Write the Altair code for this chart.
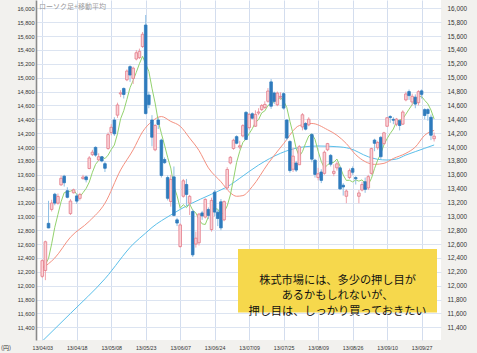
import altair as alt
import pandas as pd

# ---- data ----
tick_labels = ["13/04/03", "13/04/18", "13/05/08", "13/05/23", "13/06/07", "13/06/24",
               "13/07/09", "13/07/25", "13/08/09", "13/08/26", "13/09/10", "13/09/27"]
tick_step = 11

opens = [
    12135, 12220, 12900, 13100, 13320, 13190, 13455, 13580, 13370, 13040,
    13340, 13295, 13260, 13545, 13570, 13690, 13890, 13995, 13815, 13860,
    13760, 13980, 14210, 14390, 14460, 14765, 14845, 14970, 15160, 14990,
    15270, 15290, 15450, 15760, 14750, 14390, 13960, 14390, 14100, 13820,
    13560, 13215, 13570, 12950, 12565, 13290, 13460, 13190, 13070, 12600,
    12620, 13050, 12990, 13100, 12810, 13350, 13060, 13210, 12950, 13410,
    13770, 13980, 14150, 14000, 14160, 14500, 14280, 14480, 14300, 14490,
    14540, 14570, 14660, 14940, 14780, 14610, 14720, 14770, 14390, 14080,
    13680, 13770, 13745, 14290, 14340, 14320, 14180, 13810, 13560, 13640,
    13620, 13960, 13880, 13620, 13700, 13700, 13450, 13290, 13560, 13690,
    13560, 13290, 13380, 13500, 13410, 13620, 14100, 13990, 14140, 14050,
    14300, 14440, 14400, 14330, 14380, 14330, 14680, 14800, 14650, 14720,
    14640, 14810, 14540, 14540, 14430, 14120]
highs = [
    12380, 12650, 13225, 13240, 13340, 13330, 13590, 13600, 13420, 13250,
    13400, 13330, 13340, 13600, 13590, 13870, 13960, 14010, 13910, 13870,
    13790, 14210, 14330, 14430, 14640, 14820, 14860, 15120, 15180, 15160,
    15400, 15420, 15660, 15905, 14800, 14460, 14330, 14420, 14120, 13850,
    13590, 13600, 13720, 12980, 12900, 13540, 13540, 13310, 13100, 12780,
    13050, 13080, 13260, 13130, 13270, 13380, 13100, 13250, 13230, 13710,
    13870, 14120, 14170, 14090, 14330, 14520, 14490, 14500, 14530, 14560,
    14620, 14660, 14850, 14980, 14800, 14800, 14790, 14790, 14400, 14100,
    13990, 13800, 14030, 14490, 14360, 14430, 14200, 13830, 13700, 13680,
    13950, 14060, 13900, 13750, 13790, 13720, 13480, 13390, 13690, 13720,
    13580, 13380, 13500, 13560, 13600, 13990, 14120, 14090, 14160, 14220,
    14430, 14460, 14430, 14420, 14400, 14530, 14800, 14830, 14770, 14760,
    14820, 14830, 14560, 14560, 14470, 14210]
lows = [
    12110, 12080, 12830, 13070, 13160, 13170, 13440, 13430, 13260, 13020,
    13330, 13180, 13230, 13530, 13490, 13680, 13870, 13860, 13800, 13780,
    13640, 13960, 14170, 14160, 14420, 14720, 14700, 14950, 14940, 14910,
    15250, 15270, 15430, 14470, 14560, 14010, 13940, 14260, 13560, 13760,
    13230, 13140, 13000, 12860, 12548, 13270, 13150, 13020, 12415, 12550,
    12580, 12950, 12970, 12960, 12780, 13000, 12860, 12800, 12930, 13380,
    13750, 13960, 14040, 13970, 14140, 14100, 14250, 14400, 14290, 14460,
    14520, 14550, 14640, 14550, 14620, 14590, 14680, 14540, 14100, 13630,
    13640, 13640, 13740, 14240, 14240, 14300, 13780, 13560, 13520, 13480,
    13600, 13940, 13720, 13580, 13660, 13380, 13300, 13190, 13540, 13600,
    13460, 13190, 13360, 13340, 13380, 13600, 13940, 13960, 13830, 14030,
    14290, 14350, 14330, 14300, 14240, 14320, 14660, 14680, 14600, 14560,
    14600, 14700, 14400, 14380, 14100, 14080]
closes = [
    12362, 12634, 12833, 13192, 13192, 13288, 13549, 13485, 13275, 13221,
    13383, 13220, 13316, 13568, 13529, 13843, 13926, 13884, 13860, 13799,
    13694, 14180, 14285, 14191, 14607, 14782, 14758, 15096, 15039, 15138,
    15360, 15381, 15627, 14483, 14612, 14142, 14311, 14326, 13589, 13774,
    13261, 13534, 13014, 12904, 12877, 13514, 13317, 13289, 12445, 12686,
    13033, 13007, 13245, 13014, 13230, 13062, 12969, 12834, 13213, 13677,
    13852, 14098, 14055, 14018, 14309, 14109, 14472, 14416, 14472, 14506,
    14599, 14615, 14808, 14589, 14658, 14778, 14731, 14562, 14129, 13661,
    13869, 13668, 14005, 14466, 14258, 14401, 13825, 13605, 13615, 13519,
    13925, 14050, 13752, 13650, 13758, 13397, 13424, 13366, 13660, 13636,
    13542, 13338, 13459, 13389, 13573, 13978, 14054, 14065, 13861, 14205,
    14423, 14425, 14387, 14404, 14311, 14505, 14766, 14742, 14732, 14620,
    14799, 14760, 14455, 14484, 14170, 14157]
prior_closes = [12335, 12397, 12135, 12003]   # closes before the first day (for the 5-day average)

ma25_idx = [0, 4, 9, 15, 20, 25, 29, 32, 35, 38, 41, 44, 47, 50, 53, 57, 60, 62, 64, 67,
            72, 77, 82, 86, 91, 94, 97, 100, 103, 106, 109, 112, 116, 119, 122, 125]
ma25_val = [12250, 12400, 12700, 12930, 13190, 13670, 13960, 14220, 14370, 14440, 14370,
            14300, 14130, 13950, 13700, 13500, 13340, 13290, 13300, 13430, 13760, 14050,
            14310, 14340, 14250, 14170, 14050, 13890, 13790, 13750, 13765, 13835, 13910,
            14000, 14170, 14240]
ma75_idx = [0, 9, 20, 29, 33, 35, 41, 47, 54, 60, 63, 69, 76, 79, 83, 88, 94, 98, 104,
            107, 110, 113, 116, 119, 122, 125]
ma75_val = [11200, 11600, 12100, 12600, 12760, 12840, 13020, 13175, 13320, 13455, 13550,
            13740, 13910, 13960, 14000, 14015, 14005, 13980, 13860, 13823, 13813, 13827,
            13885, 13934, 13982, 14030]

y_ticks = list(range(11400, 16001, 200))
title_text = "ローソク足+移動平均"
unit_text = "(円)"
note_lines = ["株式市場には、多少の押し目が", "あるかもしれないが、", "押し目は、しっかり買っておきたい"]

# ---- tables ----
n = len(closes)
candles = pd.DataFrame({"i": list(range(n)), "o": opens, "h": highs, "l": lows, "c": closes})
ma5_src = pd.DataFrame({"i": list(range(-len(prior_closes), n)), "c": prior_closes + closes})
ma25 = pd.DataFrame({"i": ma25_idx, "v": ma25_val})
ma75 = pd.DataFrame({"i": ma75_idx, "v": ma75_val})

W, H = 405, 340
label_font = "Liberation Sans"
grid_col = "#dce4f1"

x_scale = alt.Scale(domain=[-0.4, 125.6], nice=False, zero=False)
y_scale = alt.Scale(domain=[11217, 16121], nice=False, zero=False)
label_expr = "[" + ",".join("'%s'" % t for t in tick_labels) + "][round(datum.value/%d)]" % tick_step
x_axis = alt.Axis(values=[k * tick_step for k in range(len(tick_labels))], labelExpr=label_expr,
                  title=None, grid=True, gridColor="#d3ddee", gridWidth=1, ticks=False,
                  domain=False, labelFont=label_font, labelFontSize=5.3, labelColor="#333333",
                  labelPadding=5, labelFlush=False)
X = alt.X("i:Q", scale=x_scale, axis=x_axis)

left_axis = alt.Axis(values=y_ticks, format=",d", orient="left", title=None, grid=True,
                     gridColor=grid_col, gridWidth=1, ticks=False, domain=True,
                     domainColor="#8a8a8a", domainWidth=1.6, labelFont=label_font,
                     labelFontSize=5.6, labelColor="#333333", labelPadding=2)
right_axis = alt.Axis(values=y_ticks, format=",d", orient="right", title=None, grid=False,
                      ticks=False, domain=False, labelFont=label_font, labelFontSize=6.4,
                      labelColor="#333333", labelPadding=6)

up = "datum.c >= datum.o"

ma75_line = alt.Chart(ma75).mark_line(color="#5bbfea", strokeWidth=1, interpolate="monotone", clip=True).encode(
    x=X, y=alt.Y("v:Q", scale=y_scale, axis=left_axis))
ma25_line = alt.Chart(ma25).mark_line(color="#f4907f", strokeWidth=1, interpolate="monotone", clip=True).encode(
    x=X, y=alt.Y("v:Q", scale=y_scale, axis=None))
ma5_line = alt.Chart(ma5_src).transform_window(
    ma5="mean(c)", frame=[-4, 0], sort=[alt.SortField("i")]
).transform_filter("datum.i >= 0").mark_line(color="#93d26e", strokeWidth=1, clip=True).encode(
    x=X, y=alt.Y("ma5:Q", scale=y_scale, axis=None))

wicks = alt.Chart(candles).mark_rule(strokeWidth=1, clip=True).encode(
    x=X, y=alt.Y("l:Q", scale=y_scale, axis=None), y2="h:Q",
    color=alt.condition(up, alt.value("#efa3ad"), alt.value("#8fbfe4")))
bodies = alt.Chart(candles).mark_bar(size=2.6, strokeWidth=0.8, clip=True).encode(
    x=X, y=alt.Y("o:Q", scale=y_scale, axis=right_axis), y2="c:Q",
    fill=alt.condition(up, alt.value("#fad2d7"), alt.value("#2f7bbd")),
    stroke=alt.condition(up, alt.value("#e37b89"), alt.value("#2f7bbd")))

title = alt.Chart(pd.DataFrame({"t": [title_text]})).mark_text(
    align="left", baseline="middle", font="Noto Sans CJK JP", fontSize=7, color="#9b9b9b").encode(
    x=alt.value(3), y=alt.value(6.5), text="t:N")
unit = alt.Chart(pd.DataFrame({"t": [unit_text]})).mark_text(
    align="center", baseline="middle", font="Noto Sans CJK JP", fontSize=6, color="#333333").encode(
    x=alt.value(-30), y=alt.value(347.5), text="t:N")
note_box = alt.Chart(pd.DataFrame({"t": [0]})).mark_rect(color="#f6d84c").encode(
    x=alt.value(202), x2=alt.value(401), y=alt.value(249), y2=alt.value(312.5))
note = alt.Chart(pd.DataFrame({"t": [0]})).mark_text(
    text=note_lines, align="center", baseline="middle", font="Noto Sans CJK JP",
    fontSize=11.2, lineHeight=15.5, color="#111111").encode(
    x=alt.value(301.5), y=alt.value(280.5))

chart = alt.layer(ma75_line, ma25_line, ma5_line, wicks, bodies, title, unit, note_box, note).resolve_scale(
    y="shared").resolve_axis(y="independent").properties(
    width=W, height=H,
    padding={"left": 36, "top": 0, "right": 36, "bottom": 13},
    autosize=alt.AutoSizeParams(type="none"),
    background="#f2f1ee",
).configure_view(fill="white", stroke=None)

chart.save("out.html", embed_options={"renderer": "svg", "actions": False})
